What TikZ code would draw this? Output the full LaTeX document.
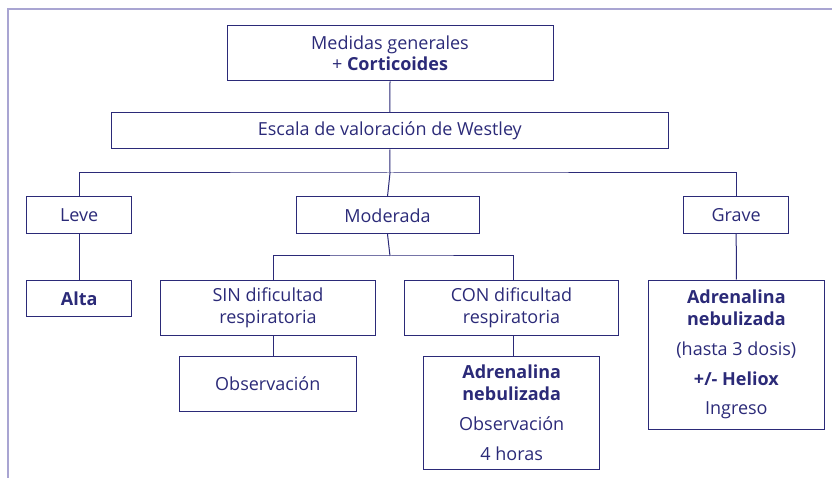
\documentclass[tikz,border=0pt]{standalone}
\usepackage{fontspec}
\setmainfont{Open Sans}
\definecolor{navy}{HTML}{2B2A78}
\definecolor{frame}{HTML}{A9A5D2}
\begin{document}
\begin{tikzpicture}[x=1pt,y=-1pt,
  box/.style={draw=navy,line width=1pt,inner sep=0pt,text=navy,align=center,
    font=\fontsize{18}{21.5}\selectfont},
  conn/.style={draw=navy,line width=1pt}]
\useasboundingbox (0,0) rectangle (832,478);
\draw[frame,line width=2pt] (7.5,478) -- (7.5,9) -- (832,9);
\node[box,minimum width=326,minimum height=55.5] (med) at (390,53.25) {Medidas generales\\+ \textbf{Corticoides}};
\node[box,minimum width=556.3,minimum height=36.3] (esc) at (389.85,130.85) {Escala de valoración de Westley};
\node[box,minimum width=105,minimum height=36.7] (leve) at (79.2,215.35) {Leve};
\node[box,minimum width=183,minimum height=36.7] (mod) at (387.5,215.35) {Moderada};
\node[box,minimum width=105,minimum height=36.7] (grave) at (736.2,215.35) {Grave};
\node[box,minimum width=105,minimum height=36.7] (alta) at (79.2,298.35) {\textbf{Alta}};
\node[box,minimum width=214.6,minimum height=55.3] (sin) at (268,307.65) {SIN dificultad\\respiratoria};
\node[box,minimum width=214.4,minimum height=55.3] (con) at (511.5,307.65) {CON dificultad\\respiratoria};
\node[box,minimum width=177,minimum height=55.7] (obs) at (267.8,383.85) {Observación};
\node[box,minimum width=176,minimum height=112.7] (adr1) at (511.7,412.65) {\textbf{Adrenalina}\\\textbf{nebulizada}\\[9pt]Observación\\[8pt]4 horas};
\node[box,minimum width=176.7,minimum height=149] (adr2) at (736.35,354.5) {\textbf{Adrenalina}\\\textbf{nebulizada}\\[9pt](hasta 3 dosis)\\[8pt]\textbf{+/- Heliox}\\[8pt]Ingreso};
\coordinate (j1) at (390,173);
\coordinate (j2) at (390,256);
\draw[conn] (med.south) -- (esc.north);
\draw[conn] (esc.south) -- (j1);
\draw[conn] (leve.north) |- (j1) -| (grave.north);
\draw[conn] (j1) -- (mod.north);
\draw[conn] (leve.south) -- (alta.north);
\draw[conn] (grave.south) -- (adr2.north);
\draw[conn] (mod.south) -- (j2);
\draw[conn] ([xshift=5.3pt]sin.north) |- (j2) -| ([xshift=2.2pt]con.north);
\draw[conn] ([xshift=5.3pt]sin.south) -- ([xshift=5.5pt]obs.north);
\draw[conn] ([xshift=2.2pt]con.south) -- ([xshift=2pt]adr1.north);
\end{tikzpicture}
\end{document}
